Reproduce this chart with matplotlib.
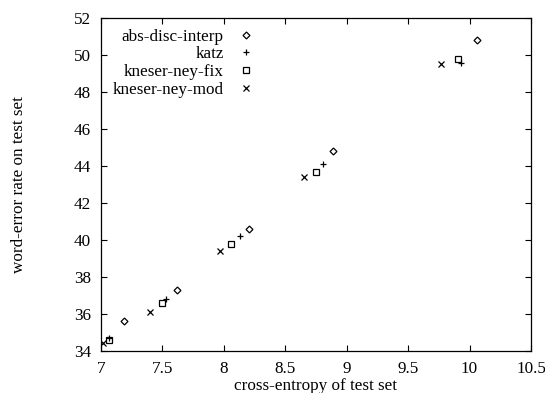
import numpy as np
import matplotlib.pyplot as plt
import matplotlib as mpl
from matplotlib.ticker import MultipleLocator

mpl.rcParams['font.family'] = 'Liberation Serif'
fs = 12.3

# data
abs_x = [7.19, 7.62, 8.21, 8.89, 10.06]
abs_y = [35.6, 37.3, 40.6, 44.8, 50.8]
katz_x = [7.07, 7.53, 8.13, 8.81, 9.93]
katz_y = [34.7, 36.8, 40.2, 44.1, 49.6]
knfix_x = [7.07, 7.50, 8.06, 8.75, 9.91]
knfix_y = [34.6, 36.6, 39.8, 43.7, 49.8]
knmod_x = [7.02, 7.40, 7.97, 8.65, 9.77]
knmod_y = [34.4, 36.1, 39.4, 43.4, 49.5]

fig = plt.figure(figsize=(5.45, 3.93), dpi=100)
ax = fig.add_axes([0.1848, 0.1076, 0.7895, 0.8458])

ax.plot(abs_x, abs_y, ls='none', marker='D', ms=3.5, mfc='none', mec='k',
        mew=0.9, label='abs-disc-interp')
ax.plot(katz_x, katz_y, ls='none', marker='+', ms=5, mec='k', mew=0.9,
        label='katz')
ax.plot(knfix_x, knfix_y, ls='none', marker='s', ms=4.5, mfc='none', mec='k',
        mew=0.9, label='kneser-ney-fix')
ax.plot(knmod_x, knmod_y, ls='none', marker='x', ms=4.5, mec='k', mew=0.9,
        label='kneser-ney-mod')

ax.set_xlim(7, 10.5)
ax.set_ylim(34, 52)
ax.xaxis.set_major_locator(MultipleLocator(0.5))
ax.yaxis.set_major_locator(MultipleLocator(2))
ax.xaxis.set_major_formatter(mpl.ticker.FuncFormatter(lambda v, p: '%g' % v))
ax.tick_params('both', length=4, width=0.8, direction='in', right=True,
               top=True, labelsize=fs)
ax.tick_params(axis='x', pad=7.5)
ax.tick_params(axis='y', pad=7)
for s in ax.spines.values():
    s.set_linewidth(0.9)

ax.set_xlabel('cross-entropy of test set', fontsize=fs, va='baseline')
ax.xaxis.set_label_coords(0.5, -0.118)
ax.set_ylabel('word-error rate on test set', fontsize=fs, va='center')
ax.yaxis.set_label_coords(-0.190, 0.5)

leg = ax.legend(loc='upper left', bbox_to_anchor=(0.0, 1.005),
                markerfirst=False, frameon=False, fontsize=fs,
                handlelength=1.0, handletextpad=0.8, labelspacing=0.1,
                borderaxespad=0.3)
for t in leg.get_texts():
    t.set_ha('right')

fig.savefig('out.png', dpi=100)
